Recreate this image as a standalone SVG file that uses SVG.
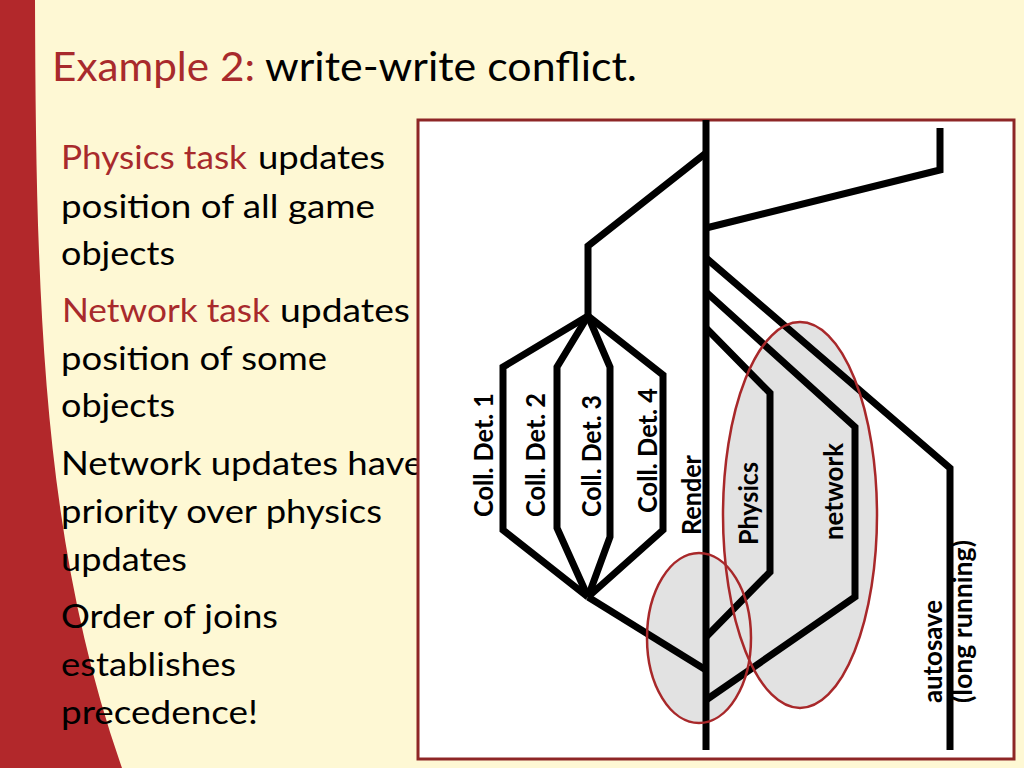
<svg xmlns="http://www.w3.org/2000/svg" width="1024" height="768" viewBox="0 0 1024 768">
<style>
.body{font-family:Lato,"Open Sans","Liberation Sans",sans-serif;font-size:33px;fill:#000}
.title{font-family:Lato,"Open Sans","Liberation Sans",sans-serif;font-size:40px;fill:#000}
.red,.title.red,.body.red{fill:#A82A2C}
.lbl{font-family:Lato,"Open Sans","Liberation Sans",sans-serif;font-size:26px;font-weight:bold;fill:#000}
.ln{fill:none;stroke:#000;stroke-width:7;stroke-linejoin:miter;stroke-linecap:butt}
.efill{fill:#E2E2E2;stroke:none}
.estroke{fill:none;stroke:#A8282A;stroke-width:2.5}
</style>
<rect x="0" y="0" width="1024" height="768" fill="#FEF8D4"/>
<path d="M0,0 L35,0 C36,300 42,540 122,768 L0,768 Z" fill="#B2282B"/>
<g id="title">
<text class="title red" x="52" y="81" textLength="203" lengthAdjust="spacingAndGlyphs">Example 2:</text>
<text class="title" x="265" y="81" textLength="372" lengthAdjust="spacingAndGlyphs">write-write conflict.</text>
</g>
<g id="bullets">
<text class="body red" x="61" y="169" textLength="186" lengthAdjust="spacingAndGlyphs">Physics task</text>
<text class="body" x="258" y="169" textLength="127" lengthAdjust="spacingAndGlyphs">updates</text>
<text class="body" x="61" y="218" textLength="314" lengthAdjust="spacingAndGlyphs">position of all game</text>
<text class="body" x="61" y="265" textLength="114" lengthAdjust="spacingAndGlyphs">objects</text>
<text class="body red" x="62" y="322" textLength="208" lengthAdjust="spacingAndGlyphs">Network task</text>
<text class="body" x="280" y="322" textLength="130" lengthAdjust="spacingAndGlyphs">updates</text>
<text class="body" x="61" y="370" textLength="266" lengthAdjust="spacingAndGlyphs">position of some</text>
<text class="body" x="61" y="417" textLength="114" lengthAdjust="spacingAndGlyphs">objects</text>
<text class="body" x="61" y="475" textLength="362" lengthAdjust="spacingAndGlyphs">Network updates have</text>
<text class="body" x="61" y="523" textLength="321" lengthAdjust="spacingAndGlyphs">priority over physics</text>
<text class="body" x="61" y="571" textLength="126" lengthAdjust="spacingAndGlyphs">updates</text>
<text class="body" x="61" y="628" textLength="217" lengthAdjust="spacingAndGlyphs">Order of joins</text>
<text class="body" x="61" y="676" textLength="175" lengthAdjust="spacingAndGlyphs">establishes</text>
<text class="body" x="61" y="724" textLength="197" lengthAdjust="spacingAndGlyphs">precedence!</text>
</g>
<g id="frame">
<rect x="418" y="120" width="596" height="639" fill="#FFFFFF" stroke="#8E2626" stroke-width="3"/>
</g>
<g id="highlight-fills">
<ellipse class="efill" cx="800" cy="515" rx="77" ry="193"/>
<ellipse class="efill" cx="699" cy="638" rx="52" ry="85"/>
</g>
<g id="connectors">
<path class="ln" d="M706,120 L706,750"/>
<path class="ln" d="M706,153 L588,246 L588,316"/>
<path class="ln" d="M588,316 L503,367 L503,530 L588,597"/>
<path class="ln" d="M588,316 L557,367 L557,528 L588,597"/>
<path class="ln" d="M588,316 L610,367 L610,537 L588,597"/>
<path class="ln" d="M588,316 L663,375 L663,530 L588,597"/>
<path class="ln" d="M588,597 L706,670"/>
<path class="ln" d="M706,228 L940,170 L940,128"/>
<path class="ln" d="M706,258 L950,468 L950,750"/>
<path class="ln" d="M706,292 L855,427 L855,597 L706,700"/>
<path class="ln" d="M706,328 L770,393 L770,572 L706,637"/>
</g>
<g id="highlight-outlines">
<ellipse class="estroke" cx="800" cy="515" rx="77" ry="193"/>
<ellipse class="estroke" cx="699" cy="638" rx="52" ry="85"/>
</g>
<g id="node-coll1"><text class="lbl" transform="translate(493,517) rotate(-90)" textLength="124" lengthAdjust="spacingAndGlyphs">Coll. Det. 1</text></g>
<g id="node-coll2"><text class="lbl" transform="translate(545,517) rotate(-90)" textLength="124" lengthAdjust="spacingAndGlyphs">Coll. Det. 2</text></g>
<g id="node-coll3"><text class="lbl" transform="translate(601,517) rotate(-90)" textLength="122" lengthAdjust="spacingAndGlyphs">Coll. Det. 3</text></g>
<g id="node-coll4"><text class="lbl" transform="translate(657,513) rotate(-90)" textLength="125" lengthAdjust="spacingAndGlyphs">Coll. Det. 4</text></g>
<g id="node-render"><text class="lbl" transform="translate(701,535) rotate(-90)" textLength="80" lengthAdjust="spacingAndGlyphs">Render</text></g>
<g id="node-physics"><text class="lbl" transform="translate(758,545) rotate(-90)" textLength="83" lengthAdjust="spacingAndGlyphs">Physics</text></g>
<g id="node-network"><text class="lbl" transform="translate(843,540) rotate(-90)" textLength="97" lengthAdjust="spacingAndGlyphs">network</text></g>
<g id="node-autosave">
<text class="lbl" transform="translate(942,703) rotate(-90)" textLength="103" lengthAdjust="spacingAndGlyphs">autosave</text>
<text class="lbl" transform="translate(972,703) rotate(-90)" textLength="163" lengthAdjust="spacingAndGlyphs">(long running)</text>
</g>
</svg>
